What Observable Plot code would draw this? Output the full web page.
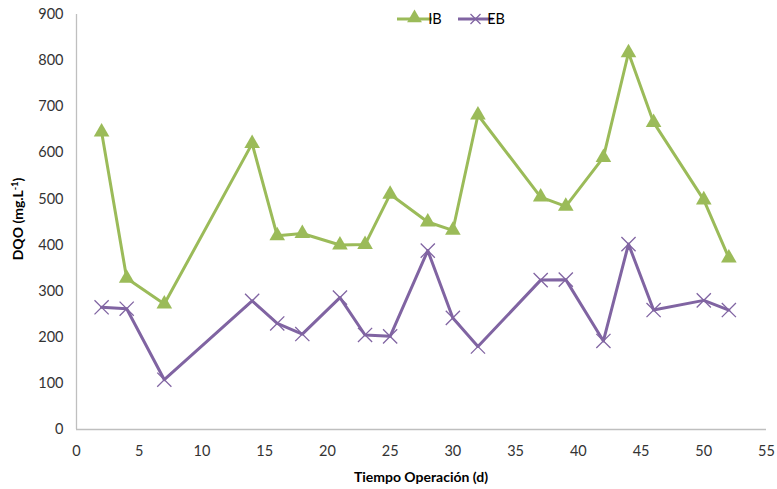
<!DOCTYPE html>
<html>
<head>
<meta charset="utf-8">
<script src="https://cdn.jsdelivr.net/npm/d3@7"></script>
<script src="https://cdn.jsdelivr.net/npm/@observablehq/plot@0.6"></script>
<style>
  html, body { margin: 0; padding: 0; background: #fff; }
  #chart { position: relative; width: 777px; height: 489px; }
</style>
</head>
<body>
<div id="chart"></div>
<script>
const days = [2, 4, 7, 14, 16, 18, 21, 23, 25, 28, 30, 32, 37, 39, 42, 44, 46, 50, 52];
const ibValues = [645, 328, 272, 620, 420, 425, 400, 401, 510, 450, 432, 682, 504, 484, 590, 817, 666, 498, 372];
const ebValues = [265, 262, 108, 279, 230, 207, 286, 205, 202, 388, 242, 180, 324, 325, 192, 402, 259, 280, 259];
const xTicks = [0, 5, 10, 15, 20, 25, 30, 35, 40, 45, 50, 55];
const yTicks = [0, 100, 200, 300, 400, 500, 600, 700, 800, 900];
const seriesNames = ["IB", "EB"];
const seriesColors = ["#9BBB59", "#8064A2"];

const ib = days.map((d, i) => ({day: d, value: ibValues[i]}));
const eb = days.map((d, i) => ({day: d, value: ebValues[i]}));

const font = "Lato, 'Open Sans', sans-serif";

const plot = Plot.plot({
  width: 777,
  height: 489,
  marginLeft: 76,
  marginRight: 11,
  marginTop: 14,
  marginBottom: 60,
  style: {fontFamily: font, fontSize: "14.5px", color: "#333", background: "#fff"},
  x: {domain: [0, 55], ticks: xTicks, tickSize: 0, tickPadding: 16, label: null},
  y: {domain: [0, 900], ticks: yTicks, tickSize: 0, tickPadding: 13, label: null},
  marks: [
    Plot.ruleX([0], {stroke: "#BFBFBF", strokeWidth: 1.3}),
    Plot.ruleY([0], {stroke: "#BFBFBF", strokeWidth: 1.3}),
    Plot.line(ib, {x: "day", y: "value", stroke: seriesColors[0], strokeWidth: 3}),
    Plot.dot(ib, {x: "day", y: "value", symbol: "triangle", fill: seriesColors[0], r: 5.8}),
    Plot.line(eb, {x: "day", y: "value", stroke: seriesColors[1], strokeWidth: 3}),
    Plot.dot(eb, {x: "day", y: "value", symbol: "times", stroke: seriesColors[1], strokeWidth: 1.3, r: 6.5})
  ]
});
document.getElementById("chart").appendChild(plot);

const svg = d3.select(plot);
// x axis title
svg.append("text")
  .attr("x", 421).attr("y", 482)
  .attr("text-anchor", "middle")
  .attr("font-family", font).attr("font-size", 14).attr("font-weight", "bold")
  .attr("fill", "#000")
  .text("Tiempo Operación (d)");
// y axis title
const yt = svg.append("text")
  .attr("transform", "translate(23,219) rotate(-90)")
  .attr("text-anchor", "middle")
  .attr("font-family", font).attr("font-size", 14).attr("font-weight", "bold")
  .attr("fill", "#000");
yt.append("tspan").text("DQO (mg.L");
yt.append("tspan").attr("font-size", 9).attr("dy", -5).text("-1");
yt.append("tspan").attr("dy", 5).text(")");

// legend
const lg = svg.append("g").attr("font-family", font).attr("font-size", 14.5).attr("fill", "#000");
const legendX = [397, 458];
seriesNames.forEach((name, i) => {
  const x0 = legendX[i];
  lg.append("line").attr("x1", x0).attr("x2", x0 + 35).attr("y1", 19).attr("y2", 19)
    .attr("stroke", seriesColors[i]).attr("stroke-width", 3);
  if (i === 0) {
    lg.append("path").attr("d", d3.symbol(d3.symbolTriangle, 95)())
      .attr("transform", `translate(${x0 + 17.5},18)`).attr("fill", seriesColors[i]);
  } else {
    lg.append("path").attr("d", "M-5,-5L5,5M-5,5L5,-5")
      .attr("transform", `translate(${x0 + 17.5},19)`).attr("stroke", seriesColors[i]).attr("stroke-width", 1.3);
  }
  lg.append("text").attr("x", x0 + 38).attr("y", 24).text(name);
});
</script>
</body>
</html>
